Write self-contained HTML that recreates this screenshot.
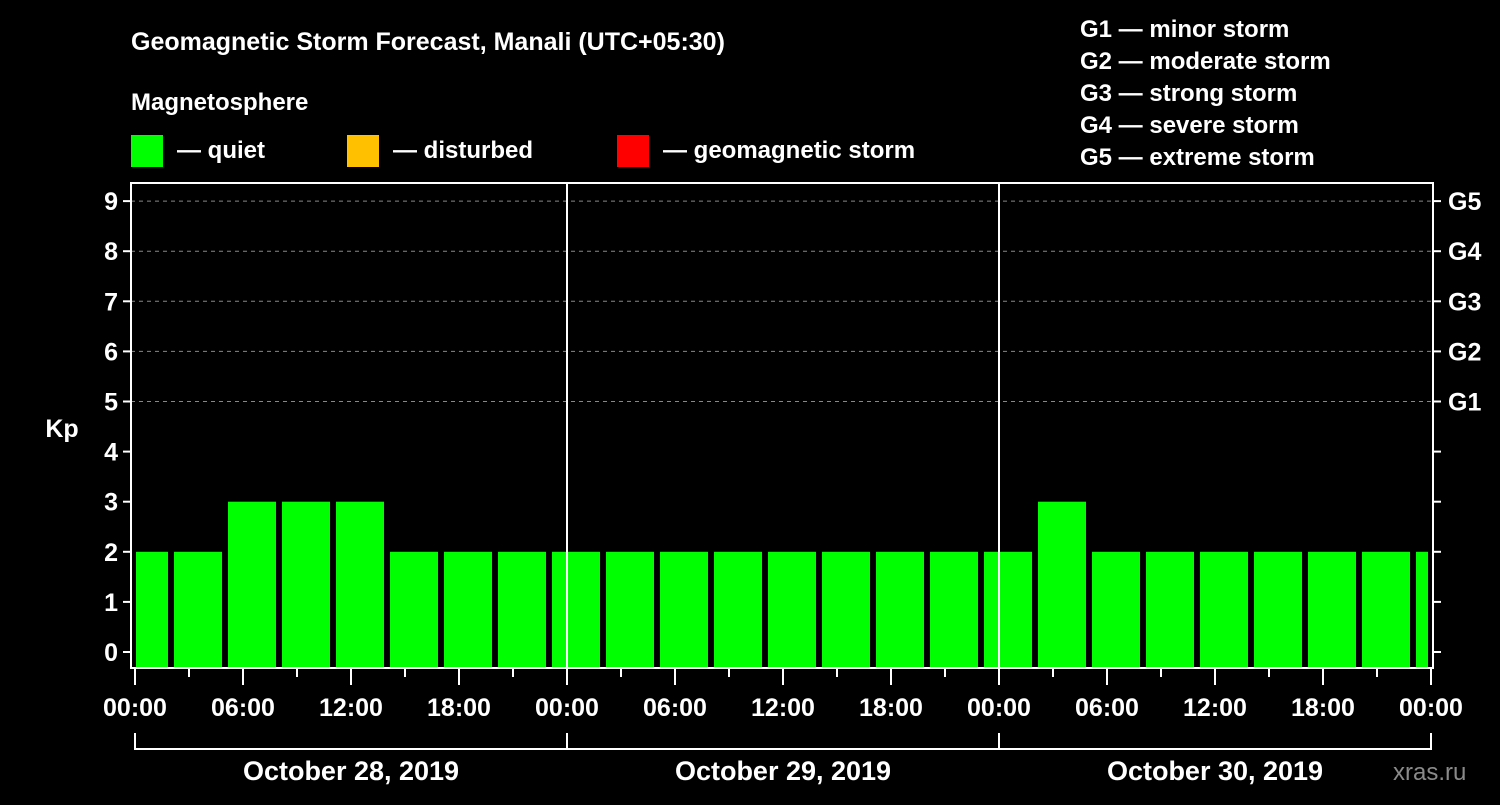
<!DOCTYPE html>
<html><head><meta charset="utf-8"><style>
body{margin:0;background:#000;width:1500px;height:800px;overflow:hidden}
text{font-family:"Liberation Sans",sans-serif;font-weight:bold;fill:#fff}
</style></head><body>
<svg id="c" width="1500" height="800">
<text x="131" y="50" font-size="25">Geomagnetic Storm Forecast, Manali (UTC+05:30)</text>
<text x="131" y="110" font-size="24">Magnetosphere</text>
<rect x="131" y="135" width="32" height="32" fill="#00ff00"/>
<text x="177" y="158" font-size="24">— quiet</text>
<rect x="347" y="135" width="32" height="32" fill="#ffc000"/>
<text x="393" y="158" font-size="24">— disturbed</text>
<rect x="617" y="135" width="32" height="32" fill="#ff0000"/>
<text x="663" y="158" font-size="24">— geomagnetic storm</text>
<g font-size="24">
<text x="1080" y="37">G1 — minor storm</text>
<text x="1080" y="69">G2 — moderate storm</text>
<text x="1080" y="101">G3 — strong storm</text>
<text x="1080" y="133">G4 — severe storm</text>
<text x="1080" y="165">G5 — extreme storm</text>
</g>
<text x="62" y="437" font-size="25" text-anchor="middle">Kp</text>
<text x="1393" y="780" font-size="24" fill="#888" style="fill:#8a8a8a;font-weight:normal">xras.ru</text>
<g id="grid"></g><g id="bars"></g><g id="axes"></g>
</svg>
<script>
const kpValues=[2,2,3,3,3,2,2,2,2,2,2,2,2,2,2,2,2,3,2,2,2,2,2,2,2];
const barStartHours=[-1,2,5,8,11,14,17,20,23,26,29,32,35,38,41,44,47,50,53,56,59,62,65,68,71];
const yTicks=[0,1,2,3,4,5,6,7,8,9];
const gLabels=["G1","G2","G3","G4","G5"];
const gLevels=[5,6,7,8,9];
const xTickLabels=["00:00","06:00","12:00","18:00","00:00","06:00","12:00","18:00","00:00","06:00","12:00","18:00","00:00"];
const dayLabels=["October 28, 2019","October 29, 2019","October 30, 2019"];
const NS="http://www.w3.org/2000/svg";
const L=131,R=1433,T=183,B=668;
const x=h=>135+h*18;
const y=v=>652-v*50.1;
function mk(t,a,p){const e=document.createElementNS(NS,t);for(const k in a)e.setAttribute(k,a[k]);p.appendChild(e);return e;}
const grid=document.getElementById('grid'),bars=document.getElementById('bars'),axes=document.getElementById('axes');
gLevels.forEach(v=>{const l=mk('line',{x1:L,x2:R,y1:y(v),y2:y(v),stroke:'#888','stroke-dasharray':'4,4'},grid);

});
kpValues.forEach((v,i)=>{let x0=Math.max(x(barStartHours[i])+3,L+5),x1=Math.min(x(barStartHours[i]+3)-3,R-5);
const r=mk('rect',{x:x0,y:y(v),width:x1-x0,height:B-y(v),fill:v>=5?'#ff0000':(v>=4?'#ffc000':'#00ff00')},bars);

});
[24,48].forEach(h=>{const l=mk('line',{x1:x(h),x2:x(h),y1:T,y2:B,stroke:'#fff','stroke-width':2},axes);

});
const box=mk('rect',{x:L,y:T,width:R-L,height:B-T,fill:'none',stroke:'#fff','stroke-width':2},axes);


yTicks.forEach(v=>{mk('line',{x1:L-8,x2:L,y1:y(v),y2:y(v),stroke:'#fff','stroke-width':2},axes);
mk('line',{x1:R,x2:R+8,y1:y(v),y2:y(v),stroke:'#fff','stroke-width':2},axes);
const t=mk('text',{x:L-13,y:y(v)+9,'font-size':25,'text-anchor':'end'},axes);t.textContent=v;

});
gLabels.forEach((g,i)=>{const t=mk('text',{x:1448,y:y(gLevels[i])+9,'font-size':25},axes);t.textContent=g;

});
for(let h=0;h<=72;h+=3){mk('line',{x1:x(h),x2:x(h),y1:B,y2:h%6==0?685:677,stroke:'#fff','stroke-width':2},axes);}
xTickLabels.forEach((s,i)=>{const t=mk('text',{x:x(i*6),y:716,'font-size':25,'text-anchor':'middle'},axes);t.textContent=s;

});
mk('path',{d:`M${x(0)},733V749H${x(72)}V733M${x(24)},733V749M${x(48)},733V749`,stroke:'#fff','stroke-width':2,fill:'none'},axes);
dayLabels.forEach((s,i)=>{const t=mk('text',{x:x(i*24+12),y:780,'font-size':27,'text-anchor':'middle'},axes);t.textContent=s;

});
</script>
</body></html>
